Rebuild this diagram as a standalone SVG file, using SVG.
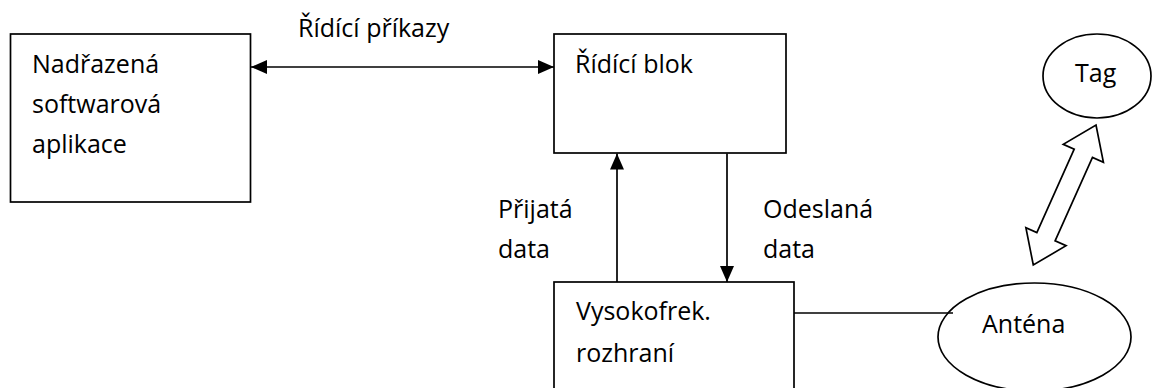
<svg xmlns="http://www.w3.org/2000/svg" width="1152" height="388" viewBox="0 0 1152 388">
<defs>
<style>
.box{fill:#fff;stroke:#000;stroke-width:1.7}
.ln{fill:none;stroke:#000;stroke-width:1.7}
text{font-family:"Open Sans","Noto Sans","Liberation Sans",sans-serif;font-size:25px;fill:#000}
</style>
<marker id="ah" viewBox="0 0 16 14" refX="16" refY="7" markerWidth="16" markerHeight="14" markerUnits="userSpaceOnUse" orient="auto-start-reverse">
<path d="M0,0 L16,7 L0,14 Z" fill="#000"/>
</marker>
</defs>
<rect width="1152" height="388" fill="#fff"/>
<g id="app">
<rect class="box" x="10.5" y="34" width="240" height="168"/>
<text x="32" y="73">Nadřazená</text>
<text x="32" y="113">softwarová</text>
<text x="32" y="153">aplikace</text>
</g>
<g id="control">
<rect class="box" x="554" y="34" width="232" height="119"/>
<text x="575" y="73">Řídící blok</text>
</g>
<g id="rf">
<rect class="box" x="554" y="282" width="240" height="120"/>
<text x="576" y="320">Vysokofrek.</text>
<text x="576" y="362">rozhraní</text>
</g>
<g id="antenna">
<ellipse class="box" cx="1034.5" cy="337" rx="96.5" ry="54"/>
<text x="982" y="333">Anténa</text>
</g>
<g id="tag">
<ellipse class="box" cx="1097" cy="76" rx="54" ry="42"/>
<text x="1075" y="82">Tag</text>
</g>
<g id="connectors">
<line class="ln" x1="251" y1="67" x2="554" y2="67" marker-start="url(#ah)" marker-end="url(#ah)"/>
<line class="ln" x1="617" y1="282" x2="617" y2="153.5" marker-end="url(#ah)"/>
<line class="ln" x1="727" y1="153.5" x2="727" y2="282" marker-end="url(#ah)"/>
<line class="ln" x1="794" y1="313" x2="953" y2="313"/>
<polygon class="box" transform="translate(1033.3,265) rotate(-65.87)" points="0,0 31,-22 31,-10 122.4,-10 122.4,-22 153.4,0 122.4,22 122.4,10 31,10 31,22"/>
<text x="298" y="37">Řídící příkazy</text>
<text x="498" y="218">Přijatá</text>
<text x="498" y="258">data</text>
<text x="763" y="218">Odeslaná</text>
<text x="763" y="258">data</text>
</g>
</svg>
